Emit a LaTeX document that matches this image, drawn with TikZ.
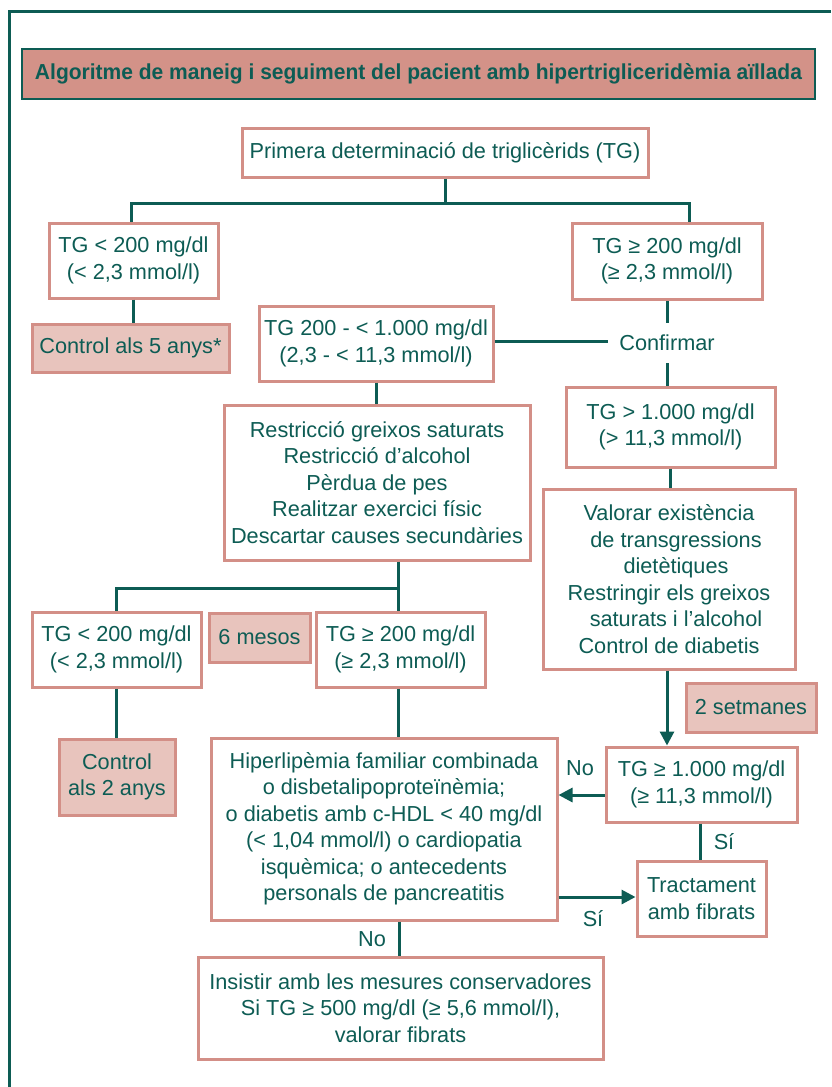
\documentclass[tikz,border=0pt]{standalone}
\usepackage{fontspec}
\setmainfont{Liberation Sans}
\usepackage{graphicx}
\usetikzlibrary{arrows.meta}
\definecolor{tealc}{HTML}{0D5C54}
\definecolor{salm}{HTML}{D38F87}
\definecolor{titlefill}{HTML}{D39288}
\definecolor{shadefill}{HTML}{E8C4BD}
\begin{document}
\begin{tikzpicture}[x=1pt,y=-1pt,
  every node/.style={text=tealc, font=\fontsize{21.7}{26.5}\selectfont},
  box/.style={draw=salm, line width=3pt, fill=white, align=center, inner sep=0pt},
  sbox/.style={box, fill=shadefill},
  conn/.style={draw=tealc, line width=3pt},
  arr/.style={conn, -{Triangle[length=14pt,width=14pt]}},
  lbl/.style={inner sep=0pt}]
\useasboundingbox (0,0) rectangle (831,1087);
\fill[white] (0,0) rectangle (831,1087);
% outer frame
\draw[conn] (9,1087) -- (9,11) -- (831,11);
% title
\node[draw=tealc, fill=titlefill, line width=2.5pt, minimum width=793pt, minimum height=50pt, inner sep=0pt] (title) at (418.5,74)
  {\resizebox{767pt}{\height}{\bfseries Algoritme de maneig i seguiment del pacient amb hipertrigliceridèmia aïllada}};
% nodes
\node[box, minimum width=406pt, minimum height=49pt] (primera) at (445,152.5) {Primera determinació de triglicèrids (TG)};
\node[box, minimum width=169pt, minimum height=75pt] (lt1) at (133.5,260.5) {TG < 200 mg/dl\\(< 2,3 mmol/l)};
\node[box, minimum width=190pt, minimum height=76pt] (rt1) at (667,261) {TG ≥ 200 mg/dl\\(≥ 2,3 mmol/l)};
\node[sbox, minimum width=197pt, minimum height=48pt] (ctl5) at (130.5,348) {Control als 5 anys*};
\node[box, minimum width=234pt, minimum height=75pt] (mid) at (376,343.5) {TG 200 - < 1.000 mg/dl\\(2,3 - < 11,3 mmol/l)};
\node[lbl, minimum width=118pt, minimum height=40pt] (conf) at (667,343) {Confirmar};
\node[box, minimum width=209pt, minimum height=80pt] (gt1000) at (670.5,427) {TG > 1.000 mg/dl\\(> 11,3 mmol/l)};
\node[box, minimum width=306pt, minimum height=155pt] (restr) at (377,482.5) {Restricció greixos saturats\\Restricció d’alcohol\\Pèrdua de pes\\Realitzar exercici físic\\Descartar causes secundàries};
\node[box, minimum width=252pt, minimum height=180pt] (valorar) at (669,579) {Valorar existència\\\hspace*{14pt}de transgressions\\\hspace*{14pt}dietètiques\\Restringir els greixos\\\hspace*{14pt}saturats i l’alcohol\\Control de diabetis};
\node[box, minimum width=169pt, minimum height=75pt] (lt2) at (116.5,649.5) {TG < 200 mg/dl\\(< 2,3 mmol/l)};
\node[sbox, minimum width=101pt, minimum height=49pt] (mesos) at (259.5,637.5) {6 mesos};
\node[box, minimum width=169pt, minimum height=75pt] (ge2) at (400.5,649.5) {TG ≥ 200 mg/dl\\(≥ 2,3 mmol/l)};
\node[sbox, minimum width=116pt, minimum height=76pt] (ctl2) at (117,777) {Control\\als 2 anys};
\node[sbox, minimum width=130pt, minimum height=49pt] (setm) at (751,707.5) {2 setmanes};
\node[box, minimum width=191pt, minimum height=75pt] (ge1000) at (701.5,784.5) {TG ≥ 1.000 mg/dl\\(≥ 11,3 mmol/l)};
\node[box, minimum width=346pt, minimum height=182pt] (hiper) at (384,829) {Hiperlipèmia familiar combinada\\o disbetalipoproteïnèmia;\\o diabetis amb c-HDL < 40 mg/dl\\(< 1,04 mmol/l) o cardiopatia\\isquèmica; o antecedents\\personals de pancreatitis};
\node[box, minimum width=129pt, minimum height=75pt] (tract) at (701.5,898.5) {Tractament\\amb fibrats};
\node[box, minimum width=405pt, minimum height=102pt] (insist) at (400.5,1008) {Insistir amb les mesures conservadores\\Si TG ≥ 500 mg/dl (≥ 5,6 mmol/l),\\valorar fibrats};
% junctions
\coordinate (j1) at (445,203);
\coordinate (j2) at (398,588);
% connectors
\draw[conn] (primera.south) -- (j1);
\draw[conn] (j1) -| ([xshift=-2.5pt]lt1.north);
\draw[conn] (j1) -| ([xshift=22pt]rt1.north);
\draw[conn] (lt1.south) -- (lt1.south |- ctl5.north);
\draw[conn] (conf.north) -- (conf.north |- rt1.south);
\draw[conn] (conf.south) -- (conf.south |- gt1000.north);
\draw[conn] ([yshift=2.5pt]mid.east) -- ([yshift=2.5pt]mid.east -| conf.west);
\draw[conn] (mid.south) -- (mid.south |- restr.north);
\draw[conn] (gt1000.south) -- (gt1000.south |- valorar.north);
\draw[conn] (j2 |- restr.south) -- (j2);
\draw[conn] (lt2.north) |- (j2);
\draw[conn] (j2) -- (j2 |- ge2.north);
\draw[conn] (lt2.south) -- (lt2.south |- ctl2.north);
\draw[conn] (j2 |- ge2.south) -- (j2 |- hiper.north);
\draw[arr] ([xshift=-2pt]valorar.south) -- ([xshift=-2pt]valorar.south |- ge1000.north);
\draw[arr] ([yshift=-10.5pt]ge1000.west) -- ([yshift=-10.5pt]ge1000.west -| hiper.east);
\draw[conn] ([xshift=-1.5pt]ge1000.south) -- ([xshift=-1.5pt]ge1000.south |- tract.north);
\draw[arr] ([yshift=-68pt]hiper.east) -- ([yshift=-68pt]hiper.east -| tract.west);
\draw[conn] ([xshift=15pt]hiper.south) -- ([xshift=15pt]hiper.south |- insist.north);
% labels
\node[lbl] (no1) at (580,768) {No};
\node[lbl] (si1) at (724,842) {Sí};
\node[lbl] (si2) at (593,919) {Sí};
\node[lbl] (no2) at (372,939) {No};
\end{tikzpicture}
\end{document}
